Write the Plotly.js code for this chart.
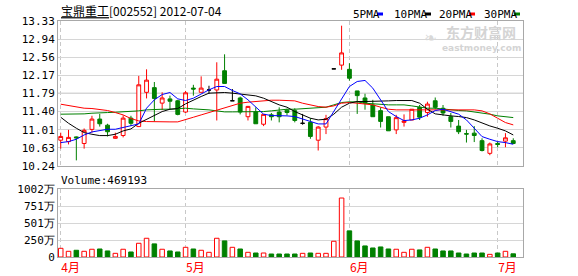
<!DOCTYPE html>
<html><head><meta charset="utf-8">
<script src="https://cdn.plot.ly/plotly-3.0.1.min.js"></script>
<style>html,body{margin:0;padding:0;background:#fff;}#chart{width:578px;height:276px;}</style>
</head><body><div id="chart"></div>
<script>
// ---- data ----
const stockName = '宝鼎重工';
const stockCode = '002552';
const chartDate = '2012-07-04';
const lastVolume = 469193;

const openP  = [10.79,10.76,10.86,10.72,11.02,11.24,11.11,10.83,10.89,11.26,11.08,11.81,11.91,11.58,11.67,11.63,11.39,11.90,11.81,11.86,11.86,12.27,11.63,11.69,11.29,11.39,11.13,11.33,11.39,11.43,11.42,11.15,11.17,10.79,11.07,12.31,12.39,12.30,11.84,11.69,11.54,11.42,11.29,11.01,11.17,11.22,11.49,11.38,11.63,11.47,11.29,11.09,10.93,10.94,10.78,10.51,10.72,10.77,10.78];
const highP  = [10.95,11.01,10.87,11.04,11.31,11.35,11.14,10.95,11.32,11.31,12.16,12.30,12.03,11.81,11.74,11.65,11.84,11.97,12.15,11.95,12.45,12.62,11.88,11.72,11.52,11.49,11.34,11.37,11.49,11.46,11.47,11.35,11.26,11.09,11.33,12.31,13.23,12.43,11.84,11.78,11.65,11.49,11.29,11.33,11.34,11.45,11.54,11.61,11.70,11.54,11.37,11.22,11.01,11.09,10.83,10.74,10.76,10.94,10.83];
const lowP   = [10.61,10.70,10.36,10.61,10.95,11.08,10.87,10.82,10.85,11.09,11.07,11.68,11.19,11.43,11.45,11.32,11.37,11.74,11.81,11.78,11.21,12.00,11.63,11.34,11.21,11.14,11.09,11.21,11.17,11.32,11.17,11.12,10.82,10.57,10.92,12.31,12.29,12.06,11.35,11.44,11.29,11.06,10.99,10.92,11.08,11.22,11.22,11.29,11.45,11.31,11.06,10.92,10.74,10.75,10.55,10.47,10.64,10.64,10.71];
const closeP = [10.87,10.85,10.84,11.00,11.24,11.14,10.97,10.87,11.26,11.15,11.97,12.07,11.68,11.69,11.62,11.34,11.80,11.88,11.90,11.86,12.09,12.00,11.63,11.39,11.51,11.14,11.34,11.29,11.29,11.38,11.21,11.15,10.87,11.07,11.25,12.31,12.65,12.11,11.74,11.58,11.29,11.19,10.99,11.27,11.20,11.45,11.28,11.56,11.49,11.37,11.19,10.97,10.92,10.89,10.57,10.71,10.70,10.84,10.72];
// volume in 万 (10k)
const volume = [128,84,99,84,114,118,89,54,114,74,202,276,193,114,89,74,143,118,99,69,276,237,143,118,69,59,59,44,44,44,44,54,59,54,54,232,869,385,237,163,133,148,118,114,69,114,104,143,118,89,89,59,44,59,59,39,59,84,47];

const ma5  = [10.739,10.760,10.810,10.902,10.966,10.988,11.023,11.023,11.066,11.094,11.137,11.472,11.650,11.763,11.806,11.671,11.635,11.685,11.778,11.863,11.934,11.934,11.849,11.778,11.650,11.486,11.344,11.315,11.315,11.308,11.294,11.237,11.187,11.137,11.137,11.400,11.685,11.934,12.041,12.063,11.899,11.650,11.400,11.294,11.208,11.222,11.258,11.329,11.422,11.450,11.400,11.344,11.222,11.045,10.867,10.810,10.760,10.739,10.703];
const ma10 = [11.279,11.151,11.045,10.952,10.916,10.888,10.888,10.916,10.988,11.030,11.151,11.237,11.329,11.400,11.450,11.464,11.564,11.650,11.721,11.792,11.806,11.806,11.792,11.771,11.756,11.735,11.685,11.614,11.543,11.493,11.400,11.329,11.258,11.222,11.237,11.344,11.493,11.578,11.614,11.614,11.614,11.614,11.628,11.635,11.628,11.635,11.578,11.450,11.351,11.322,11.308,11.294,11.272,11.222,11.151,11.094,11.045,10.988,10.902];
const ma20 = [11.557,11.529,11.507,11.472,11.465,11.450,11.422,11.379,11.329,11.251,11.201,11.187,11.180,11.180,11.180,11.180,11.222,11.279,11.329,11.379,11.436,11.493,11.543,11.578,11.600,11.614,11.635,11.642,11.642,11.642,11.628,11.578,11.543,11.507,11.493,11.521,11.578,11.593,11.578,11.564,11.543,11.493,11.450,11.436,11.436,11.436,11.436,11.436,11.450,11.450,11.450,11.436,11.450,11.436,11.415,11.351,11.258,11.166,11.116];
const ma30 = [11.344,11.344,11.344,11.351,11.365,11.365,11.379,11.386,11.393,11.393,11.415,11.436,11.450,11.450,11.450,11.465,11.472,11.457,11.450,11.436,11.415,11.393,11.393,11.393,11.393,11.393,11.400,11.415,11.436,11.450,11.450,11.457,11.472,11.472,11.493,11.543,11.593,11.607,11.607,11.578,11.564,11.557,11.543,11.543,11.543,11.521,11.493,11.472,11.472,11.450,11.436,11.422,11.415,11.393,11.379,11.344,11.308,11.294,11.272];

const monthTickIdx = [0,16,37,56];
const monthLabels = ['4月','5月','6月','7月'];
const priceTicks = [10.24,10.63,11.01,11.40,11.79,12.17,12.56,12.94,13.33];
const volTicks = [0,250,501,751,1002];
const volTickLabels = ['0','250万','501万','751万','1002万'];
const maNames = ['5PMA','10PMA','20PMA','30PMA'];

// ---- styling ----
const RED = '#ff0000', GREEN = '#008000', BLUE = '#0000ff', BLACK = '#000000';
const FRAME = '#a8a8a8', GRID = '#d6d6d6';
const MONO = 'DejaVu Sans Mono, monospace';
const CJK = 'Noto Sans CJK SC, sans-serif';

const n = closeP.length;
const idx = closeP.map((_, i) => i);

function pick(cond) {
  const s = {x: [], open: [], high: [], low: [], close: []};
  for (let i = 0; i < n; i++) if (cond(i)) {
    s.x.push(i); s.open.push(openP[i]); s.high.push(highP[i]); s.low.push(lowP[i]); s.close.push(closeP[i]);
  }
  return s;
}
function candle(s, color, fill) {
  return {type: 'candlestick', x: s.x, open: s.open, high: s.high, low: s.low, close: s.close,
    xaxis: 'x', yaxis: 'y', whiskerwidth: 0, hoverinfo: 'skip', showlegend: false,
    increasing: {line: {color: color, width: 1}, fillcolor: fill},
    decreasing: {line: {color: color, width: 1}, fillcolor: fill}};
}
function maLine(vals, color) {
  return {type: 'scatter', mode: 'lines', x: idx, y: vals, xaxis: 'x', yaxis: 'y',
    line: {color: color, width: 1}, hoverinfo: 'skip', showlegend: false};
}

const upC = pick(i => closeP[i] > openP[i]);
const downC = pick(i => closeP[i] < openP[i]);
const flatC = pick(i => closeP[i] === openP[i]);

const volUp = idx.map(i => closeP[i] >= openP[i]);

const traces = [
  candle(upC, RED, '#ffffff'),
  candle(downC, GREEN, GREEN),
  candle(flatC, BLACK, BLACK),
  maLine(ma30, GREEN),
  maLine(ma20, RED),
  maLine(ma10, BLACK),
  maLine(ma5, BLUE),
  {type: 'bar', x: idx, y: volume, xaxis: 'x2', yaxis: 'y2', width: 0.58,
   marker: {color: volUp.map(u => u ? '#ffffff' : GREEN),
            line: {color: volUp.map(u => u ? RED : GREEN), width: 1}},
   hoverinfo: 'skip', showlegend: false}
];

const W = 578, H = 276;
const mL = 58, mR = 55, mT = 21, mB = 19;
const plotH = H - mT - mB;
const plotW = W - mL - mR;
const priceBottomPx = 166, volTopPx = 189;
const xRange = [-0.35, n + 0.25];
const px2x = px => (px - mL) / plotW;
const px2y = py => (H - mB - py) / plotH;

// legend annotations (text followed by a small colored dash)
const legendX = [351, 392, 437, 482];
const dashX = [[377,383],[425,431],[469,475],[514,520]];
const maColors = [BLUE, BLACK, RED, GREEN];
const annotations = [];
const shapes = [];
maNames.forEach((nm, j) => {
  annotations.push({xref: 'paper', yref: 'paper', x: px2x(legendX[j]), y: px2y(14),
    xanchor: 'left', yanchor: 'middle', text: nm, showarrow: false,
    font: {family: MONO, size: 11, color: '#000'}});
  shapes.push({type: 'rect', xref: 'paper', yref: 'paper',
    x0: px2x(dashX[j][0]), x1: px2x(dashX[j][1]), y0: px2y(15.5), y1: px2y(12.5),
    fillcolor: maColors[j], line: {width: 0}});
});
// volume caption
annotations.push({xref: 'paper', yref: 'paper', x: px2x(59), y: px2y(180),
  xanchor: 'left', yanchor: 'middle', text: 'Volume:' + lastVolume, showarrow: false,
  font: {family: MONO, size: 11, color: '#000'}});
// watermark
annotations.push({xref: 'paper', yref: 'paper', x: px2x(481), y: px2y(32),
  xanchor: 'center', yanchor: 'middle', text: '<b>东方财富网</b>', showarrow: false,
  font: {family: CJK, size: 14, color: '#d4d4d4'}});
annotations.push({xref: 'paper', yref: 'paper', x: px2x(481), y: px2y(47.5),
  xanchor: 'center', yanchor: 'middle', text: '<b>eastmoney.com</b>', showarrow: false,
  font: {family: 'DejaVu Sans, sans-serif', size: 9, color: '#d4d4d4'}});
annotations.push({xref: 'paper', yref: 'paper', x: px2x(430), y: px2y(38),
  xanchor: 'center', yanchor: 'middle', text: '<b>❧</b>', showarrow: false,
  font: {family: 'DejaVu Sans, sans-serif', size: 15, color: '#d8d8d8'}});

// darker middle line of price panel
shapes.push({type: 'line', xref: 'x domain', yref: 'y', x0: 0, x1: 1,
  y0: priceTicks[4], y1: priceTicks[4], line: {color: '#a8a8a8', width: 1}, layer: 'below'});

const layout = {
  width: W, height: H,
  margin: {l: mL, r: mR, t: mT, b: mB, pad: 0},
  paper_bgcolor: '#ffffff', plot_bgcolor: '#ffffff',
  showlegend: false,
  title: {text: '<u>' + stockName + '</u>[' + stockCode + '] ' + chartDate,
    xref: 'container', x: 61 / W, xanchor: 'left', yref: 'container', y: 1 - 12 / H, yanchor: 'middle',
    font: {family: CJK, size: 12, color: '#000'}},
  xaxis: {domain: [0, 1], anchor: 'y', range: xRange, tickvals: monthTickIdx, showticklabels: false,
    ticks: '', showgrid: true, gridcolor: '#c8c8c8', griddash: '4px,3px', gridwidth: 1,
    showline: true, mirror: true, linecolor: FRAME, linewidth: 1, zeroline: false,
    rangeslider: {visible: false}, fixedrange: true},
  yaxis: {domain: [px2y(priceBottomPx), 1], anchor: 'x', range: [priceTicks[0], priceTicks[priceTicks.length - 1]],
    tickvals: priceTicks, ticktext: priceTicks.map(v => v.toFixed(2)), ticks: '',
    showgrid: true, gridcolor: GRID, gridwidth: 1, zeroline: false,
    showline: true, mirror: true, linecolor: FRAME, linewidth: 1,
    tickfont: {family: MONO, size: 11, color: '#000'}, fixedrange: true},
  xaxis2: {domain: [0, 1], anchor: 'y2', range: xRange, tickvals: monthTickIdx, ticktext: monthLabels,
    ticks: '', ticklabelposition: 'outside right', showgrid: true, gridcolor: '#c8c8c8', griddash: '4px,3px', gridwidth: 1,
    showline: true, mirror: true, linecolor: FRAME, linewidth: 1, zeroline: false,
    tickfont: {family: CJK, size: 12, color: RED}, fixedrange: true},
  yaxis2: {domain: [0, px2y(volTopPx)], anchor: 'x2', range: [volTicks[0], volTicks[volTicks.length - 1]],
    tickvals: volTicks, ticktext: volTickLabels, ticks: '',
    showgrid: true, gridcolor: GRID, gridwidth: 1, zeroline: false,
    showline: true, mirror: true, linecolor: FRAME, linewidth: 1,
    tickfont: {family: MONO, size: 11, color: '#000'}, fixedrange: true},
  annotations: annotations,
  shapes: shapes,
  bargap: 0.3
};

Plotly.newPlot('chart', traces, layout, {staticPlot: true, displayModeBar: false});
</script>
</body></html>
